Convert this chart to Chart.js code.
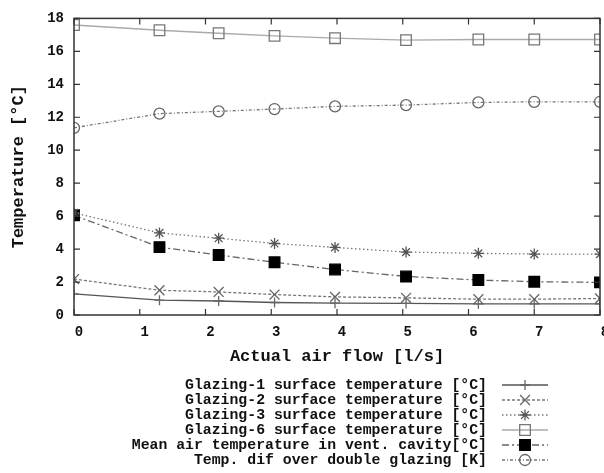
<!DOCTYPE html>
<html>
<head>
<meta charset="utf-8">
<script src="https://cdn.jsdelivr.net/npm/chart.js@4"></script>
<style>
  html, body { margin: 0; padding: 0; background: #fff; overflow: hidden; }
  canvas { display: block; }
</style>
</head>
<body>
<canvas id="flowChart" width="624" height="473"></canvas>
<script>
// air flow rates [l/s]
const flow = [0, 1.3, 2.2, 3.05, 3.97, 5.05, 6.15, 7, 8];

// temperatures per series
const glazing1 = [1.28, 0.9, 0.85, 0.76, 0.72, 0.7, 0.68, 0.68, 0.68];
const glazing2 = [2.18, 1.5, 1.4, 1.24, 1.1, 1.04, 0.96, 0.96, 1.0];
const glazing3 = [6.2, 4.98, 4.66, 4.34, 4.1, 3.82, 3.74, 3.7, 3.7];
const glazing6 = [17.6, 17.28, 17.1, 16.94, 16.8, 16.68, 16.72, 16.72, 16.72];
const meanAir = [6.05, 4.12, 3.64, 3.2, 2.76, 2.34, 2.12, 2.02, 1.98];
const tempDif = [11.36, 12.22, 12.36, 12.5, 12.66, 12.74, 12.9, 12.94, 12.94];

const seriesNames = [
  "Glazing-1 surface temperature [°C]",
  "Glazing-2 surface temperature [°C]",
  "Glazing-3 surface temperature [°C]",
  "Glazing-6 surface temperature [°C]",
  "Mean air temperature in vent. cavity[°C]",
  "Temp. dif over double glazing [K]"
];

const xTicks = [0, 1, 2, 3, 4, 5, 6, 7, 8];
const yTicks = [0, 2, 4, 6, 8, 10, 12, 14, 16, 18];

const MONO = "'Liberation Mono', 'Courier New', monospace";

function pts(ys) { return flow.map((x, i) => ({ x: x, y: ys[i] })); }

function series(label, ys, o) {
  return Object.assign({
    label: label,
    data: pts(ys),
    borderWidth: 1.3,
    pointBorderWidth: 1.3,
    pointBackgroundColor: "rgba(0,0,0,0)",
    fill: false,
    tension: 0
  }, o);
}

const datasets = [
  series(seriesNames[0], glazing1, { borderColor: "#555", pointBorderColor: "#666", pointStyle: "cross", pointRadius: 5 }),
  series(seriesNames[1], glazing2, { borderColor: "#777", borderDash: [3, 2], pointBorderColor: "#666", pointStyle: "crossRot", pointRadius: 7 }),
  series(seriesNames[2], glazing3, { borderColor: "#777", borderDash: [1.5, 2.5], pointBorderColor: "#555", pointStyle: "star", pointRadius: 5.5 }),
  series(seriesNames[3], glazing6, { borderColor: "#aaa", pointBorderColor: "#777", pointStyle: "rect", pointRadius: 7.5 }),
  series(seriesNames[4], meanAir, { borderColor: "#666", borderDash: [7, 3, 2, 3], pointBorderColor: "#000", pointBackgroundColor: "#000", pointStyle: "rect", pointRadius: 7.5 }),
  series(seriesNames[5], tempDif, { borderColor: "#777", borderDash: [3, 2, 1, 2], pointBorderColor: "#666", pointStyle: "circle", pointRadius: 5.5 })
];

// box frame with inward ticks on all four sides
const frame = {
  id: "frame",
  afterDraw(chart) {
    const { ctx, chartArea: a, scales } = chart;
    ctx.save();
    ctx.strokeStyle = "#333";
    ctx.lineWidth = 1.5;
    ctx.strokeRect(a.left, a.top, a.right - a.left, a.bottom - a.top);
    ctx.lineWidth = 1.2;
    ctx.beginPath();
    yTicks.forEach(v => {
      const y = scales.y.getPixelForValue(v);
      ctx.moveTo(a.left, y); ctx.lineTo(a.left + 6, y);
      ctx.moveTo(a.right, y); ctx.lineTo(a.right - 6, y);
    });
    xTicks.forEach(v => {
      const x = scales.x.getPixelForValue(v);
      ctx.moveTo(x, a.bottom); ctx.lineTo(x, a.bottom - 6);
      ctx.moveTo(x, a.top); ctx.lineTo(x, a.top + 6);
    });
    ctx.stroke();
    ctx.restore();
  }
};

// key under the plot: right-aligned text, sample line + marker to the right
const keyBox = {
  id: "keyBox",
  afterDraw(chart) {
    const ctx = chart.ctx;
    const textRight = 487, x0 = 502, x1 = 548, y0 = 385, step = 15;
    ctx.save();
    ctx.font = "bold 14.8px " + MONO;
    ctx.textAlign = "right";
    ctx.textBaseline = "middle";
    chart.data.datasets.forEach((ds, i) => {
      const y = y0 + i * step;
      ctx.fillStyle = "#111";
      ctx.fillText(ds.label, textRight, y);
      ctx.strokeStyle = ds.borderColor;
      ctx.lineWidth = ds.borderWidth;
      ctx.setLineDash(ds.borderDash || []);
      ctx.beginPath();
      ctx.moveTo(x0, y); ctx.lineTo(x1, y);
      ctx.stroke();
      ctx.setLineDash([]);
      ctx.strokeStyle = ds.pointBorderColor;
      ctx.fillStyle = ds.pointBackgroundColor;
      ctx.lineWidth = ds.pointBorderWidth;
      Chart.helpers.drawPoint(ctx, { pointStyle: ds.pointStyle, radius: ds.pointRadius, borderWidth: ds.pointBorderWidth, rotation: 0 }, (x0 + x1) / 2, y);
    });
    ctx.restore();
  }
};

new Chart(document.getElementById("flowChart"), {
  type: "line",
  data: { datasets: datasets },
  plugins: [frame, keyBox],
  options: {
    responsive: false,
    animation: false,
    layout: { padding: { left: 0, right: 24, top: 14, bottom: 102 } },
    plugins: {
      legend: { display: false },
      tooltip: { enabled: false }
    },
    scales: {
      x: {
        type: "linear",
        min: 0,
        max: 8,
        afterBuildTicks: s => { s.ticks = xTicks.map(v => ({ value: v })); },
        afterFit: s => { s.height = 56; },
        grid: { display: false, drawTicks: false },
        border: { display: false },
        ticks: { color: "#111", padding: 9, labelOffset: 5, maxRotation: 0, font: { family: MONO, size: 14, weight: "bold" } },
        title: { display: true, text: "Actual air flow [l/s]", color: "#111", padding: { top: 4, bottom: 4 }, font: { family: MONO, size: 17, weight: "bold" } }
      },
      y: {
        min: 0,
        max: 18,
        afterBuildTicks: s => { s.ticks = yTicks.map(v => ({ value: v })); },
        afterFit: s => { s.width = 74; },
        grid: { display: false, drawTicks: false },
        border: { display: false },
        ticks: { color: "#111", padding: 10, font: { family: MONO, size: 14, weight: "bold" } },
        title: { display: true, text: "Temperature [°C]", color: "#111", padding: { top: 9, bottom: 0 }, font: { family: MONO, size: 17, weight: "bold" } }
      }
    }
  }
});
</script>
</body>
</html>
